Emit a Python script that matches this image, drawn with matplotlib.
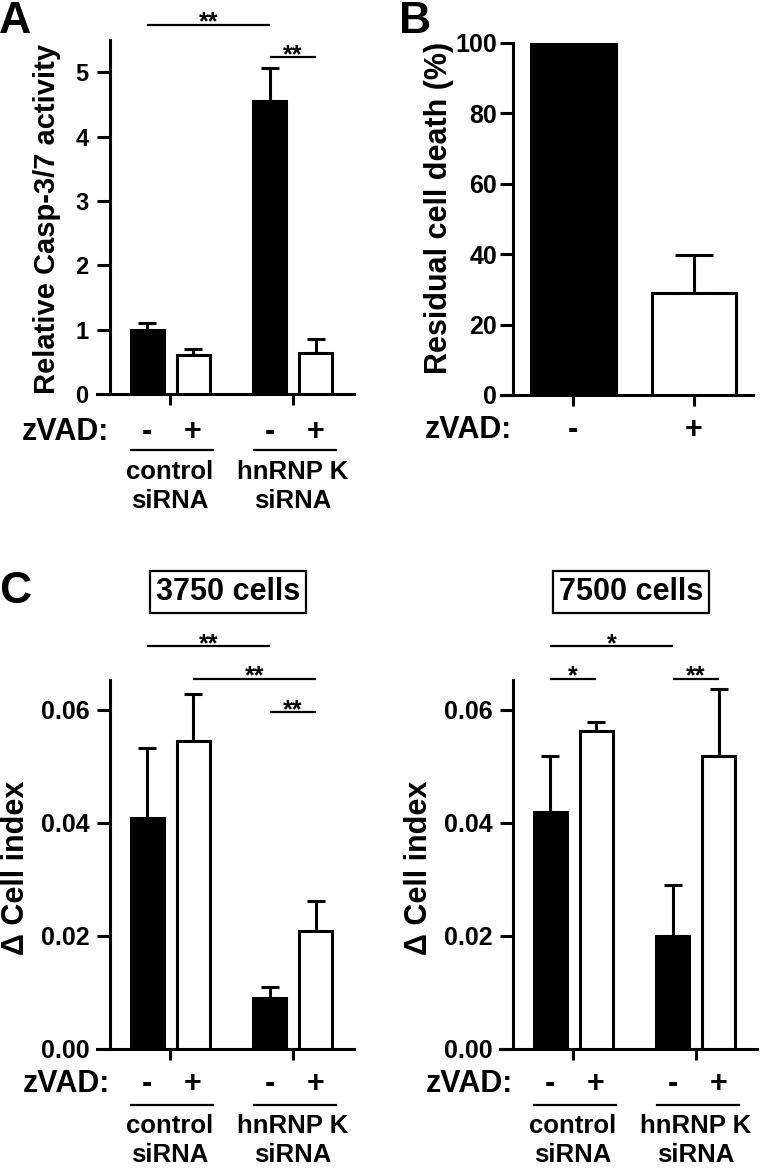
import matplotlib
matplotlib.use('Agg')
import matplotlib.pyplot as plt
import matplotlib.transforms as mtransforms
from matplotlib.ticker import FormatStrFormatter
import numpy as np

plt.rcParams['font.family'] = ['Liberation Sans', 'DejaVu Sans']
plt.rcParams['font.weight'] = 'bold'

# --- data ---
# A: relative caspase-3/7 activity
casp_mean = [1.00, 0.61, 4.56, 0.64]
casp_sem = [0.11, 0.10, 0.51, 0.22]

# B: residual cell death (%)
death_zvad = ['-', '+']
death_mean = [100, 29]
death_sem = [0, 10.8]

# C: delta cell index
ci3750_mean = [0.0409, 0.0545, 0.0090, 0.0209]
ci3750_sem = [0.0124, 0.0083, 0.0020, 0.0053]
ci7500_mean = [0.0419, 0.0563, 0.0200, 0.0519]
ci7500_sem = [0.0100, 0.0016, 0.0090, 0.0118]

zvad = ['-', '+', '-', '+']
groups = [['control', 'siRNA'], ['hnRNP K', 'siRNA']]
bar_colors = ['black', 'white', 'black', 'white']

W, H, DPI = 760, 1168, 100
LW = 2.2
pos4 = np.array([0, 1, 2.67, 3.67])
grp4 = [0.5, 3.17]

fig = plt.figure(figsize=(W / DPI, H / DPI), dpi=DPI)


def fy(y):
    return 1 - y / H


def fx(x):
    return x / W


def make_ax(x0, y0, x1, y1):
    return fig.add_axes([x0 / W, 1 - y1 / H, (x1 - x0) / W, (y1 - y0) / H])


def style(ax, xlim, spine_x, ylim, yticks, fmt, pad, size):
    ax.set_xlim(xlim)
    ax.set_ylim(ylim)
    ax.patch.set_visible(False)
    for s in ['top', 'right']:
        ax.spines[s].set_visible(False)
    ax.spines['left'].set_position(('data', spine_x))
    for s in ['left', 'bottom']:
        ax.spines[s].set_linewidth(LW)
    ax.set_yticks(yticks)
    ax.yaxis.set_major_formatter(FormatStrFormatter(fmt))
    ax.tick_params(axis='y', length=9.4, width=LW, labelsize=size, pad=pad)
    ax.tick_params(axis='x', length=8, width=LW, labelbottom=False)


def bars(ax, x, mean, sem, width, colors, cap):
    ax.bar(x, mean, width=width, color=colors, edgecolor='black',
           linewidth=LW, zorder=3)
    keep = [i for i in range(len(x)) if sem[i] > 0]
    ax.errorbar(np.asarray(x)[keep], np.asarray(mean)[keep],
                yerr=[np.zeros(len(keep)), np.asarray(sem)[keep]],
                fmt='none', ecolor='black', elinewidth=LW, capsize=cap,
                capthick=LW, zorder=2, clip_on=False)


def sig(ax, x0, x1, y, label):
    ax.plot([x0, x1], [y, y], color='black', lw=1.6, clip_on=False,
            solid_capstyle='butt')
    ax.annotate(label, xy=((x0 + x1) / 2, y), xytext=(0, -3.5),
                textcoords='offset points', ha='center', va='baseline',
                fontsize=18, annotation_clip=False)


def xlabels(ax, x, labels, base_y, zvad_x):
    tr = mtransforms.blended_transform_factory(ax.transData, fig.transFigure)
    for xi, lab in zip(x, labels):
        ax.text(xi, fy(base_y), lab, transform=tr, ha='center',
                va='baseline', fontsize=22)
    fig.text(fx(zvad_x), fy(base_y), 'zVAD:', ha='right', va='baseline',
             fontsize=22)


def group_captions(ax, base_y, line_y):
    tr = mtransforms.blended_transform_factory(ax.transData, fig.transFigure)
    for g, (a, b) in enumerate([(0, 1), (2, 3)]):
        ax.plot([pos4[a] - 0.35, pos4[b] + 0.44], [fy(line_y)] * 2,
                color='black', lw=1.6, transform=tr, clip_on=False)
        ax.text(grp4[g], fy(base_y), groups[g][0], transform=tr,
                ha='center', va='baseline', fontsize=18.5)
        ax.text(grp4[g], fy(base_y + 29), groups[g][1], transform=tr,
                ha='center', va='baseline', fontsize=18.5)


# ---------- Panel A ----------
axA = make_ax(97, 40, 354, 394.3)
style(axA, (-1.09, 4.5), -0.81, (0, 5.5), range(0, 6), '%d', 6, 17)
axA.set_xticks(grp4)
bars(axA, pos4, casp_mean, casp_sem, 0.72, bar_colors, 6.8)
sig(axA, pos4[0], pos4[2], 5.74, '**')
sig(axA, pos4[2], pos4[3], 5.23, '**')
xlabels(axA, pos4, zvad, 440, 109)
group_captions(axA, 479, 450)
fig.text(fx(47), fy(219), 'Relative Casp-3/7 activity', rotation=90,
         ha='center', va='center', fontsize=21)
fig.text(fx(-1), fy(33), 'A', fontsize=32, va='baseline')

# ---------- Panel B ----------
axB = make_ax(501, 43, 753, 395)
style(axB, (-0.6, 1.49), -0.5, (0, 100), range(0, 101, 20), '%d', 2, 18)
axB.set_xticks([0, 1])
bars(axB, [0, 1], death_mean, death_sem, 0.7, ['black', 'white'], 13.7)
xlabels(axB, [0, 1], death_zvad, 438, 512)
fig.text(fx(439), fy(208), 'Residual cell death (%)', rotation=90,
         ha='center', va='center', fontsize=22)
fig.text(fx(399), fy(33), 'B', fontsize=32, va='baseline')

# ---------- Panel C ----------
for i, (mean, sem, title) in enumerate([(ci3750_mean, ci3750_sem, '3750 cells'),
                                        (ci7500_mean, ci7500_sem, '7500 cells')]):
    off = 403 * i
    ax = make_ax(97 + off, 680, 354 + off, 1049)
    style(ax, (-1.09, 4.5), -0.81, (0, 0.0653), [0, 0.02, 0.04, 0.06],
          '%.2f', 5, 18)
    ax.set_xticks(grp4)
    bars(ax, pos4, mean, sem, 0.72, bar_colors, 6.8)
    if i == 0:
        sig(ax, pos4[0], pos4[2], 0.0713, '**')
        sig(ax, pos4[1], pos4[3], 0.0655, '**')
        sig(ax, pos4[2], pos4[3], 0.0596, '**')
    else:
        sig(ax, pos4[0], pos4[2], 0.0713, '*')
        sig(ax, pos4[0], pos4[1], 0.0655, '*')
        sig(ax, pos4[2], pos4[3], 0.0655, '**')
    xlabels(ax, pos4, zvad, 1092, 110 + off)
    group_captions(ax, 1133, 1105)
    fig.text(fx(16 + off), fy(868), '\u0394 Cell index', rotation=90,
             ha='center', va='center', fontsize=22)
    fig.text(fx(228 + off), fy(592), title, ha='center', va='center',
             fontsize=22,
             bbox=dict(boxstyle='square,pad=0.2', fc='white', ec='black',
                       lw=1.6))
fig.text(fx(-1), fy(603), 'C', fontsize=32, va='baseline')

fig.savefig('out.png', dpi=DPI)
